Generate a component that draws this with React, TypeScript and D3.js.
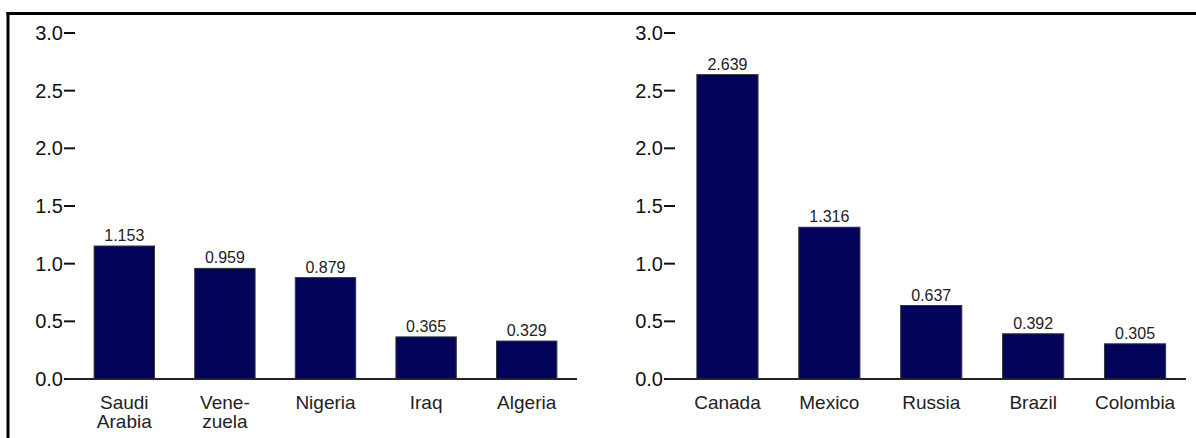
import React from "react";
import * as d3 from "d3";

// Left panel: OPEC suppliers
const leftCategories: string[][] = [["Saudi", "Arabia"], ["Vene-", "zuela"], ["Nigeria"], ["Iraq"], ["Algeria"]];
const leftValues: number[] = [1.153, 0.959, 0.879, 0.365, 0.329];

// Right panel: non-OPEC suppliers
const rightCategories: string[][] = [["Canada"], ["Mexico"], ["Russia"], ["Brazil"], ["Colombia"]];
const rightValues: number[] = [2.639, 1.316, 0.637, 0.392, 0.305];

const yTicks: number[] = [0, 0.5, 1, 1.5, 2, 2.5, 3];

const W = 1196;
const H = 438;
const BAR_FILL = "#03035a";
const FONT = "'Liberation Sans', Arial, Helvetica, sans-serif";

const y = d3.scaleLinear().domain([0, 3]).range([379, 33]);

type PanelProps = {
  cats: string[][];
  vals: number[];
  axisX: number;
  rangeStart: number;
  rangeEnd: number;
};

function Panel({ cats, vals, axisX, rangeStart, rangeEnd }: PanelProps) {
  const keys = cats.map((c) => c.join(" "));
  const x = d3
    .scaleBand<string>()
    .domain(keys)
    .range([rangeStart, rangeEnd])
    .paddingInner(0.4)
    .paddingOuter(0.2);
  const fmt = d3.format(".3f");
  return (
    <g>
      {yTicks.map((t) => (
        <g key={t}>
          <text
            x={axisX - 3}
            y={y(t) + 7}
            textAnchor="end"
            fontSize={20}
            fill="#111"
            fontFamily={FONT}
          >
            {d3.format(".1f")(t)}
          </text>
          <line x1={axisX - 2} x2={axisX + 9} y1={y(t)} y2={y(t)} stroke="#111" strokeWidth={2} />
        </g>
      ))}
      <line x1={axisX} x2={rangeEnd} y1={y(0)} y2={y(0)} stroke="#222" strokeWidth={2} />
      {vals.map((v, i) => {
        const k = keys[i];
        const bx = x(k) as number;
        const bw = x.bandwidth();
        return (
          <g key={k}>
            <rect
              x={bx}
              y={y(v)}
              width={bw}
              height={y(0) - y(v)}
              fill={BAR_FILL}
              stroke="#333"
              strokeWidth={1}
            />
            <text
              x={bx + bw / 2}
              y={y(v) - 5}
              textAnchor="middle"
              fontSize={16}
              fill="#222"
              fontFamily={FONT}
            >
              {fmt(v)}
            </text>
            {cats[i].map((line, j) => (
              <text
                key={j}
                x={bx + bw / 2}
                y={409 + j * 19}
                textAnchor="middle"
                fontSize={19}
                fill="#222"
                fontFamily={FONT}
              >
                {line}
              </text>
            ))}
          </g>
        );
      })}
    </g>
  );
}

export default function App() {
  return (
    <svg
      width={W}
      height={H}
      style={{ position: "absolute", left: 0, top: 0, background: "#fff" }}
    >
      <rect x={0} y={0} width={W} height={H} fill="#fff" />
      {/* frame: top and left rules */}
      <line x1={6.5} x2={W} y1={13.5} y2={13.5} stroke="#000" strokeWidth={3} />
      <line x1={8} x2={8} y1={12} y2={H} stroke="#000" strokeWidth={3} />
      <Panel cats={leftCategories} vals={leftValues} axisX={66} rangeStart={74} rangeEnd={577} />
      <Panel cats={rightCategories} vals={rightValues} axisX={666} rangeStart={676.5} rangeEnd={1186} />
    </svg>
  );
}
